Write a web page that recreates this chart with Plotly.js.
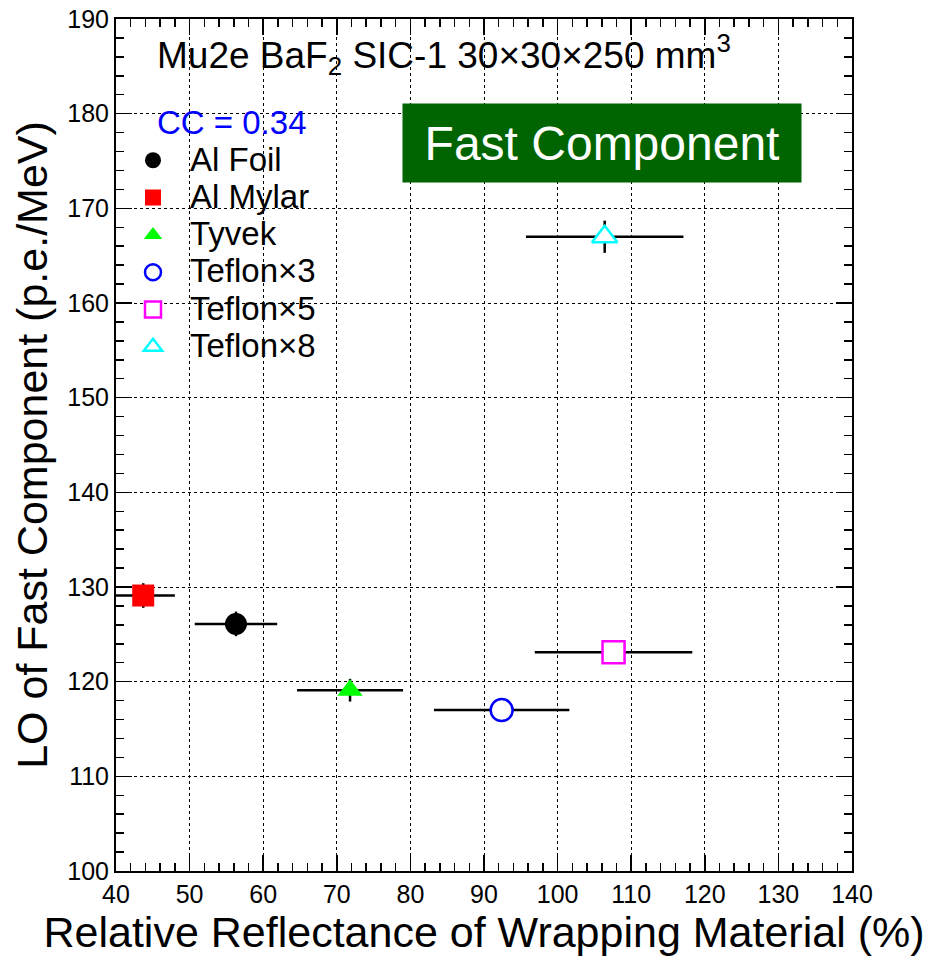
<!DOCTYPE html>
<html>
<head>
<meta charset="utf-8">
<script src="https://cdn.plot.ly/plotly-3.0.1.min.js"></script>
<style>html,body{margin:0;padding:0;background:#fff;}#chart{width:928px;height:962px;}</style>
</head>
<body>
<div id="chart"></div>
<script>
// Data
const materials = ["Al Foil", "Al Mylar", "Tyvek", "Teflon×3", "Teflon×5", "Teflon×8"];
const reflectance = [56.3, 43.7, 71.8, 92.4, 107.6, 106.4];
const reflectanceErr = [5.6, 4.3, 7.2, 9.2, 10.7, 10.7];
const lightOutput = [126.1, 129.1, 119.1, 117.0, 123.1, 167.0];
const lightOutputErr = [1.3, 1.3, 1.2, 1.2, 1.2, 1.7];
const xTicks = [40, 50, 60, 70, 80, 90, 100, 110, 120, 130, 140];
const yTicks = [100, 110, 120, 130, 140, 150, 160, 170, 180, 190];

// Styles per series
const symbols = ["circle", "square", "triangle-up", "circle", "square", "triangle-up"];
const fillColors = ["#000000", "#ff0000", "#00ff00", "#ffffff", "#ffffff", "#ffffff"];
const lineColors = ["#000000", "#ff0000", "#00ff00", "#0000ff", "#ff00ff", "#00ffff"];
const lineWidths = [0, 0, 0, 2.5, 2.5, 2.5];
const sizes = [22, 22, 22, 22, 22, 22];

const FONT = "Arial, 'Liberation Sans', sans-serif";

const traces = materials.map((name, i) => ({
  type: "scatter",
  mode: "markers",
  name: '<span style="font-size:33px">' + name + '</span>',
  x: [reflectance[i]],
  y: [lightOutput[i]],
  error_x: {type: "data", array: [reflectanceErr[i]], color: "#000000", thickness: 2.5, width: 0},
  error_y: {type: "data", array: [lightOutputErr[i]], color: "#000000", thickness: 2.5, width: 0},
  marker: {
    symbol: symbols[i],
    size: sizes[i],
    color: fillColors[i],
    line: {color: lineColors[i], width: lineWidths[i]}
  }
}));

const axisCommon = {
  showline: true, linecolor: "#000000", linewidth: 2, mirror: "allticks",
  ticks: "inside", ticklen: 16, tickwidth: 1.5, tickcolor: "#000000",
  showgrid: true, gridcolor: "#000000", gridwidth: 1, griddash: "3px,3px",
  zeroline: false,
  tickfont: {family: FONT, size: 25, color: "#000000"},
  minor: {dtick: 2, ticks: "inside", ticklen: 8, tickwidth: 1.5, tickcolor: "#000000", showgrid: false}
};

const layout = {
  width: 928, height: 962,
  margin: {l: 116, r: 76, t: 19, b: 91},
  paper_bgcolor: "#ffffff", plot_bgcolor: "#ffffff",
  font: {family: FONT, color: "#000000"},
  showlegend: true,
  legend: {
    x: 0, y: 0.862, xanchor: "left", yanchor: "top",
    bgcolor: "rgba(0,0,0,0)", borderwidth: 0,
    font: {family: FONT, size: 26.4, color: "#000000"},
    itemwidth: 64, tracegroupgap: 0
  },
  xaxis: Object.assign({}, axisCommon, {
    range: [40, 140], tickvals: xTicks, ticktext: xTicks.map(String),
    title: {text: "Relative Reflectance of Wrapping Material (%)", font: {family: FONT, size: 43, color: "#000000"}, standoff: 8}
  }),
  yaxis: Object.assign({}, axisCommon, {
    range: [100, 190], tickvals: yTicks, ticktext: yTicks.map(String),
    title: {text: "LO of Fast Component (p.e./MeV)", font: {family: FONT, size: 43, color: "#000000"}, standoff: 6}
  }),
  annotations: [
    {
      xref: "paper", yref: "paper", x: 0.053, y: 0.958, xanchor: "left", yanchor: "middle",
      text: "Mu2e BaF<sub>2</sub> SIC-1 30×30×250 mm<sup>3</sup>", showarrow: false,
      font: {family: FONT, size: 37, color: "#000000"}
    },
    {
      xref: "paper", yref: "paper", x: 0.053, y: 0.879, xanchor: "left", yanchor: "middle",
      text: "CC = 0.34", showarrow: false,
      font: {family: FONT, size: 33, color: "#0000ff"}
    },
    {
      xref: "paper", yref: "paper", x: 0.660, y: 0.854, xanchor: "center", yanchor: "middle",
      text: "Fast Component", showarrow: false, bgcolor: "#006400",
      width: 398, height: 78, borderpad: 0,
      font: {family: FONT, size: 48, color: "#ffffff"}
    }
  ]
};

Plotly.newPlot("chart", traces, layout, {displayModeBar: false, staticPlot: true});
</script>
</body>
</html>
